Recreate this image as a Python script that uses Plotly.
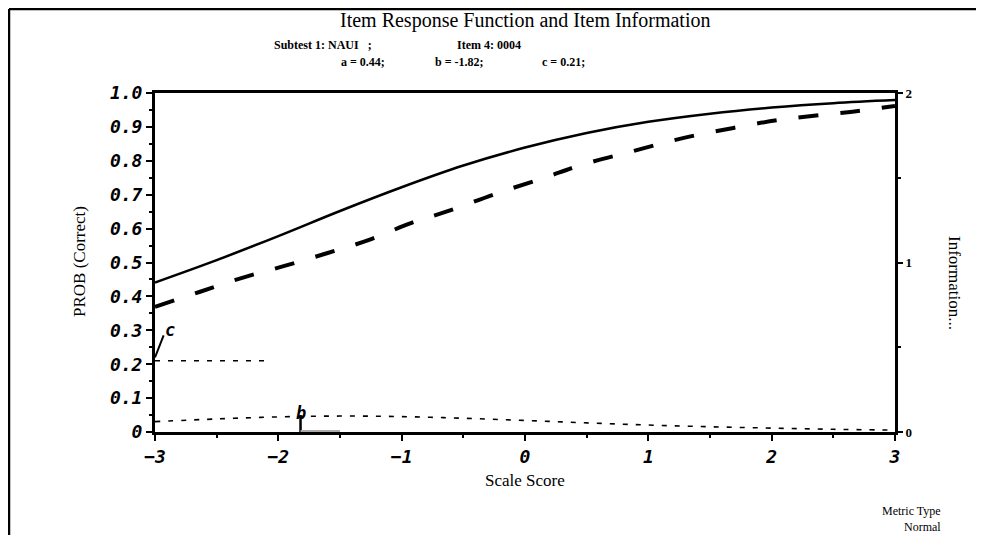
import plotly.graph_objects as go

# ---- data ----
theta = [-3, -2.5, -2, -1.5, -1, -0.5, 0, 0.5, 1, 1.5, 2, 2.5, 3]
irf_model = [0.441, 0.507, 0.578, 0.652, 0.722, 0.786, 0.839, 0.882, 0.915, 0.939, 0.957, 0.970, 0.979]
info_vals = [0.061, 0.077, 0.089, 0.094, 0.091, 0.081, 0.068, 0.054, 0.041, 0.031, 0.023, 0.016, 0.011]

theta_emp = [-3, -2.64, -2.3, -1.95, -1.6, -1.27, -0.92, -0.62, -0.22, 0.15, 0.46, 0.88, 1.28, 1.69, 2.05, 2.4, 2.7, 3.0]
irf_emp = [0.369, 0.413, 0.454, 0.49, 0.528, 0.566, 0.617, 0.652, 0.705, 0.749, 0.788, 0.829, 0.867, 0.897, 0.92, 0.935, 0.947, 0.962]

c_line_x = [-3, -2.1]
c_value = 0.21
b_value = -1.82
b_marker_y = [0, 0.05]

y_ticks = [0, 0.1, 0.2, 0.3, 0.4, 0.5, 0.6, 0.7, 0.8, 0.9, 1.0]
y_ticktext = ["0", "0.1", "0.2", "0.3", "0.4", "0.5", "0.6", "0.7", "0.8", "0.9", "1.0"]
x_ticks = [-3, -2, -1, 0, 1, 2, 3]
y2_ticks = [0, 1, 2]

# page body has an 8px margin; the figure is sized so it still ends at the window edge
OFF = 8
W, H = 984 - OFF, 535 - OFF
# plot area in window pixels: x 155..895, y 93..432
L = 155 - OFF
T = 93 - OFF
R = W - (895 - OFF)
B = H - (432 - OFF)
pw, ph = W - L - R, H - T - B

def px(xw):
    return (xw - OFF - L) / pw

def py(yw):
    return (H - B - (yw - OFF)) / ph

fig = go.Figure()

fig.add_trace(go.Scatter(x=theta, y=irf_model, mode="lines", line=dict(color="black", width=2.5, shape="spline"),
                         showlegend=False, hoverinfo="skip"))
fig.add_trace(go.Scatter(x=theta_emp, y=irf_emp, mode="lines", line=dict(color="black", width=4, dash="20px,22px", shape="spline"),
                         showlegend=False, hoverinfo="skip"))
fig.add_trace(go.Scatter(x=c_line_x, y=[c_value, c_value], mode="lines", line=dict(color="black", width=1.4, dash="5px,8px"),
                         showlegend=False, hoverinfo="skip"))
fig.add_trace(go.Scatter(x=[b_value, b_value], y=b_marker_y, mode="lines", line=dict(color="black", width=2.5),
                         showlegend=False, hoverinfo="skip"))
fig.add_trace(go.Scatter(x=[b_value, -1.5], y=[0.003, 0.003], mode="lines", line=dict(color="#aaaaaa", width=2),
                         showlegend=False, hoverinfo="skip"))
fig.add_trace(go.Scatter(x=[-3, -2.93], y=[0.22, 0.285], mode="lines", line=dict(color="black", width=2),
                         showlegend=False, hoverinfo="skip"))
fig.add_trace(go.Scatter(x=theta, y=info_vals, mode="lines", yaxis="y2",
                         line=dict(color="black", width=1.6, dash="5px,8px", shape="spline"),
                         showlegend=False, hoverinfo="skip"))

tickfont = dict(family="DejaVu Sans Mono", size=18, color="black", weight="bold", style="italic")
serif = "Liberation Serif"

fig.update_layout(
    width=W, height=H,
    margin=dict(l=L, r=R, t=T, b=B, pad=0),
    paper_bgcolor="white", plot_bgcolor="white",
    showlegend=False,
    xaxis=dict(range=[-3, 3], tickvals=x_ticks, ticks="outside", ticklen=6, tickwidth=2, tickcolor="black",
               showline=True, linecolor="black", linewidth=3, mirror=True, showgrid=False, zeroline=False,
               tickfont=tickfont,
               minor=dict(dtick=0.5, ticks="outside", ticklen=3, tickwidth=2, tickcolor="black")),
    yaxis=dict(range=[0, 1], tickvals=y_ticks, ticktext=y_ticktext, ticks="outside", ticklen=6, tickwidth=2,
               tickcolor="black", showline=True, linecolor="black", linewidth=3, showgrid=False, zeroline=False,
               tickfont=tickfont,
               minor=dict(dtick=0.05, ticks="outside", ticklen=3, tickwidth=2, tickcolor="black")),
    yaxis2=dict(range=[0, 2], overlaying="y", side="right", tickvals=y2_ticks, ticks="outside", ticklen=5,
                tickwidth=1.5, tickcolor="black", showline=True, linecolor="black", linewidth=3, showgrid=False,
                zeroline=False, tickfont=dict(family=serif, size=13, color="black", weight="bold"),
                minor=dict(dtick=0.5, ticks="outside", ticklen=3, tickwidth=1.5, tickcolor="black")),
)

def txt(text, xw, yw, size, xanchor="left", weight="normal", angle=0):
    return dict(text=text, x=px(xw), y=py(yw), xref="paper", yref="paper", showarrow=False, textangle=angle,
                font=dict(family=serif, size=size, color="black", weight=weight),
                xanchor=xanchor, yanchor="middle")

ann = [
    txt("Item Response Function and Item Information", 525, 21, 20, "center"),
    txt("Subtest 1: NAUI   ;", 272, 45, 12, "left", "bold"),
    txt("Item 4: 0004", 455, 45, 12, "left", "bold"),
    txt("a = 0.44;", 339, 62, 12, "left", "bold"),
    txt("b = -1.82;", 433, 62, 12, "left", "bold"),
    txt("c = 0.21;", 540, 62, 12, "left", "bold"),
    txt("PROB (Correct)", 79, 262, 17, "center", angle=-90),
    txt("Scale Score", 525, 480, 17, "center"),
    txt("Information...", 955, 283, 17, "center", angle=90),
    txt("Metric Type", 943, 511, 12, "right"),
    txt("Normal", 943, 527, 12, "right"),
]
labfont = dict(family="DejaVu Sans Mono", size=17, color="black", weight="bold", style="italic")
ann.append(dict(text="c", x=-2.88, y=0.30, xref="x", yref="y", showarrow=False, font=labfont,
                xanchor="center", yanchor="middle"))
ann.append(dict(text="b", x=b_value, y=0.055, xref="x", yref="y", showarrow=False, font=labfont,
                xanchor="center", yanchor="middle"))
fig.update_layout(annotations=ann)

fig.add_shape(type="line", xref="paper", yref="paper", x0=px(9), x1=px(984), y0=py(9), y1=py(9),
              line=dict(color="black", width=2.5))
fig.add_shape(type="line", xref="paper", yref="paper", x0=px(9), x1=px(9), y0=py(9), y1=py(535),
              line=dict(color="black", width=2.5))

fig.write_html("out.html")
